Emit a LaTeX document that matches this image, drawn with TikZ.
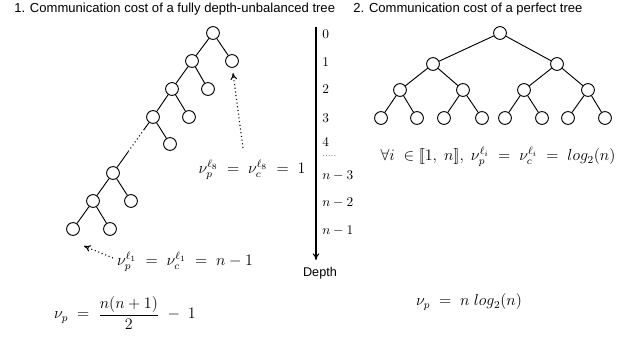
\documentclass[tikz,border=0pt]{standalone}
\usepackage{fontspec}
\setsansfont{Liberation Sans}
\usetikzlibrary{arrows.meta,calc}
\newcommand{\lbrk}{\mathopen{[\mkern-3mu[}}
\newcommand{\rbrk}{\mathclose{]\mkern-3mu]}}
\begin{document}
\begin{tikzpicture}[x=0.75pt,y=-0.75pt,
  tn/.style={circle,draw,line width=0.7pt,minimum size=9.6pt,inner sep=0pt},
  edge/.style={line width=0.7pt},
  dotarrow/.style={line width=0.8pt,dotted,-{To[length=5pt,width=5pt]}},
  title/.style={font=\sffamily\fontsize{9.8}{12}\selectfont,anchor=west,inner sep=0pt},
  mth/.style={font=\fontsize{11.5}{13}\selectfont,inner sep=0pt},
  lvl/.style={font=\fontsize{10}{12}\selectfont,anchor=west,inner sep=0pt}]
\useasboundingbox (0,0) rectangle (631,337);
% titles
\node[title] (t1) at (14,9) {1. Communication cost of a fully depth-unbalanced tree};
\node[title] (t2) at (353,9) {2. Communication cost of a perfect tree};
% left tree
\node[tn] (a0) at (213,33) {};
\node[tn] (a0r) at (232,61) {};
\node[tn] (a1) at (192,61) {};
\node[tn] (a1r) at (208,89) {};
\node[tn] (a2) at (172,89) {};
\node[tn] (a2r) at (189,117) {};
\node[tn] (a3) at (153,117) {};
\node[tn] (a3r) at (170,144) {};
\node[tn] (b0) at (113,173) {};
\node[tn] (b0r) at (131,201) {};
\node[tn] (b1) at (93,201) {};
\node[tn] (b1l) at (73,229) {};
\node[tn] (b1r) at (110,229) {};
\draw[edge] (a0)--(a0r) (a0)--(a1) (a1)--(a1r) (a1)--(a2) (a2)--(a2r) (a2)--(a3) (a3)--(a3r);
\draw[edge] (b0)--(b0r) (b0)--(b1) (b1)--(b1l) (b1)--(b1r);
\coordinate (g1) at ($(a3)!0.22!(b0)$);
\coordinate (g2) at ($(a3)!0.62!(b0)$);
\draw[edge] (a3)--(g1);
\draw[line width=0.8pt,dotted] (g1)--(g2);
\draw[edge] (g2)--(b0);
% labels left
\node[mth] (l8) at (252,170) {$\nu_p^{\ell_8}\;=\;\nu_c^{\ell_8}\;=\;1$};
\coordinate (l8t) at (243,148);
\draw[dotarrow] (l8t) -- (233,73);
\node[mth] (l1) at (185,262) {$\nu_p^{\ell_1}\;=\;\nu_c^{\ell_1}\;=\;n-1$};
\coordinate (l1t) at (113,258);
\draw[dotarrow] (l1t) -- (84,246);
\node[mth] (f1) at (125,313) {$\displaystyle\nu_p\;=\;\frac{n(n+1)}{2}\;-\;1$};
% depth axis
\coordinate (d0) at (316,27);
\coordinate (d1) at (316,260);
\draw[line width=0.8pt,-{To[length=5pt,width=5pt]}] (d0) -- (d1);
\node[font=\sffamily\fontsize{9.5}{11}\selectfont,inner sep=0pt] (dep) at (320,273) {Depth};
\node[lvl] (n0) at (322,34) {0};
\node[lvl] (n1) at (322,62) {1};
\node[lvl] (n2) at (322,89) {2};
\node[lvl] (n3) at (322,118) {3};
\node[lvl] (n4) at (322,142) {4};
\node[lvl,font=\fontsize{6}{7}\selectfont] (nd) at (322,156) {.....};
\node[lvl] (nn3) at (322,176) {$n-3$};
\node[lvl] (nn2) at (322,203) {$n-2$};
\node[lvl] (nn1) at (322,231) {$n-1$};
% right tree
\node[tn] (r) at (500,33) {};
\node[tn] (r1) at (433,64) {};
\node[tn] (r2) at (557,64) {};
\node[tn] (r11) at (400,90) {};
\node[tn] (r12) at (463,90) {};
\node[tn] (r21) at (524,90) {};
\node[tn] (r22) at (588,90) {};
\node[tn] (s1) at (381,118) {};
\node[tn] (s2) at (417,118) {};
\node[tn] (s3) at (444,118) {};
\node[tn] (s4) at (482,118) {};
\node[tn] (s5) at (505,118) {};
\node[tn] (s6) at (542,118) {};
\node[tn] (s7) at (568,118) {};
\node[tn] (s8) at (605,118) {};
\draw[edge] (r)--(r1) (r)--(r2) (r1)--(r11) (r1)--(r12) (r2)--(r21) (r2)--(r22)
  (r11)--(s1) (r11)--(s2) (r12)--(s3) (r12)--(s4) (r21)--(s5) (r21)--(s6) (r22)--(s7) (r22)--(s8);
\node[mth] (f2) at (498,157) {$\forall i\;\in\lbrk 1,\;n\rbrk,\;\nu_p^{\ell_i}\;=\;\nu_c^{\ell_i}\;=\;log_2(n)$};
\node[mth] (f3) at (469,302) {$\nu_p\;=\;n\;log_2(n)$};
\end{tikzpicture}
\end{document}
